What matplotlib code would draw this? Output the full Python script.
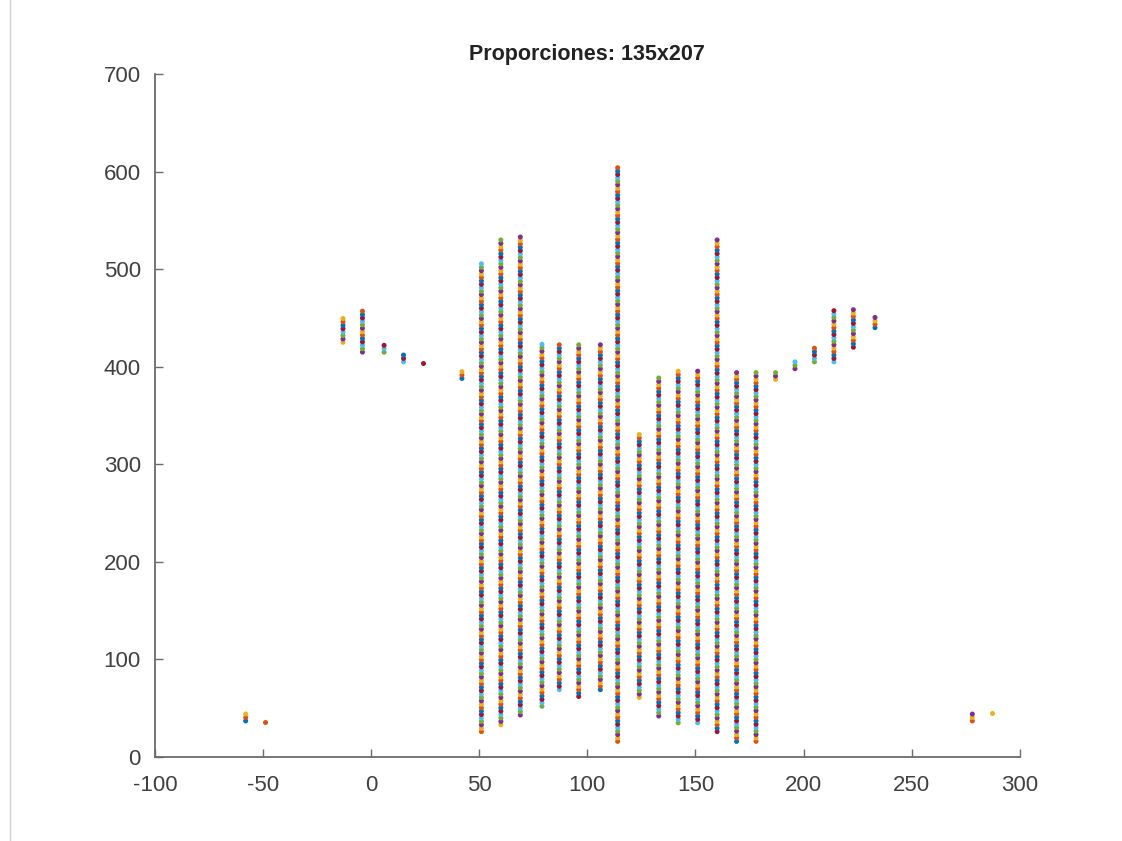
import numpy as np
import matplotlib
matplotlib.use("Agg")
import matplotlib.pyplot as plt
from matplotlib.lines import Line2D

plt.rcParams['font.family'] = ['Liberation Sans', 'DejaVu Sans']
plt.rcParams['axes.unicode_minus'] = False

# Column x positions and vertical extents of each dotted column
col_x = [-58, -49, -13, -4, 6, 15, 24, 42, 51, 60, 69, 79, 87, 96, 106, 114,
         124, 133, 142, 151, 160, 169, 178, 187, 196, 205, 214, 223, 233, 278, 287]
col_lo = [37, 36, 425, 415, 415, 405, 404, 388, 26, 33, 43, 52, 69, 62, 69, 16,
          61, 42, 35, 35, 26, 16, 16, 387, 398, 405, 405, 420, 440, 37, 45]
col_hi = [47, 37, 450, 460, 425, 415, 405, 395, 506, 533, 533, 423, 423, 423, 423, 605,
          333, 389, 397, 397, 533, 396, 396, 394, 405, 420, 460, 460, 452, 45, 46]
dot_step = 3.5

matlab_colors = ['#0072BD', '#D95319', '#EDB120', '#7E2F8E', '#77AC30', '#4DBEEE', '#A2142F']

fig = plt.figure(figsize=(11.22, 8.41), dpi=100)
ax = fig.add_axes([0.138, 0.0999, 0.771, 0.812])

for i, (x, lo, hi) in enumerate(zip(col_x, col_lo, col_hi)):
    ys = np.arange(lo, hi + 0.01, dot_step)
    cols = [matlab_colors[(k + i) % 7] for k in range(len(ys))]
    ax.scatter(np.full(len(ys), x), ys, s=13, c=cols, linewidths=0, zorder=3)

ax.set_xlim(-100, 300)
ax.set_ylim(0, 700)
ax.set_xticks(np.arange(-100, 301, 50))
ax.set_yticks(np.arange(0, 701, 100))
axcol = '#6b6b6b'
for s in ['top', 'right']:
    ax.spines[s].set_visible(False)
for s in ['left', 'bottom']:
    ax.spines[s].set_color(axcol)
    ax.spines[s].set_linewidth(1.3)
ax.tick_params(direction='in', length=6, width=1.0, color=axcol, labelsize=16,
               labelcolor='#404040')
ax.tick_params(axis='x', pad=13)
ax.tick_params(axis='y', pad=10)
ax.set_title('Proporciones: 135x207', fontsize=15.5, fontweight='bold', color='#222222', pad=10)

fig.add_artist(Line2D([0.009, 0.009], [0.0, 1.0], color='#cfcfcf', lw=1.0))

fig.savefig('out.png', dpi=100)
